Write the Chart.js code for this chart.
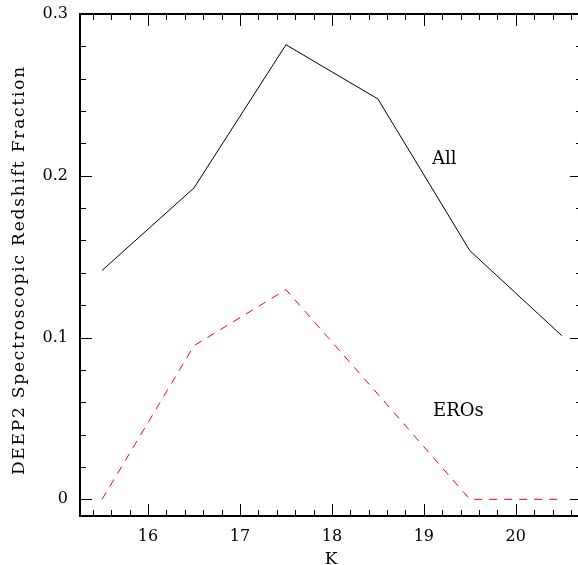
<!DOCTYPE html>
<html>
<head>
<meta charset="utf-8">
<script src="https://cdn.jsdelivr.net/npm/chart.js@4"></script>
<style>
  body { margin: 0; overflow: hidden; background: #fff; }
</style>
</head>
<body>
<canvas id="myChart" width="600" height="565"></canvas>
<script>
  // data
  var kMags = [15.5, 16.5, 17.5, 18.5, 19.5, 20.5];
  var allFraction = [0.1415, 0.1925, 0.281, 0.2475, 0.1537, 0.1012];
  var eroFraction = [0, 0.095, 0.1296, 0.065, 0, 0];

  var xTickLabels = [16, 17, 18, 19, 20];
  var yTickLabels = [0, 0.1, 0.2, 0.3];

  var serif = "'DejaVu Serif', serif";

  function pairs(ys) {
    return kMags.map(function (k, i) { return { x: k, y: ys[i] }; });
  }

  // frame with inward ticks on all four sides, plus text labels
  var framePlugin = {
    id: 'frame',
    afterDraw: function (chart) {
      var ctx = chart.ctx;
      var a = chart.chartArea;
      var xs = chart.scales.x, ys = chart.scales.y;
      ctx.save();
      ctx.strokeStyle = '#000';
      ctx.lineWidth = 1;
      ctx.beginPath();
      for (var i = 77; i <= 103; i++) {
        var v = i / 5;
        var px = Math.round(xs.getPixelForValue(v)) + 0.5;
        var len = (i % 5 === 0) ? 12 : 6;
        ctx.moveTo(px, a.bottom); ctx.lineTo(px, a.bottom - len);
        ctx.moveTo(px, a.top); ctx.lineTo(px, a.top + len);
      }
      for (var j = 0; j <= 15; j++) {
        var py = Math.round(ys.getPixelForValue(j * 0.02)) + 0.5;
        var l2 = (j % 5 === 0) ? 12 : 6;
        ctx.moveTo(a.left, py); ctx.lineTo(a.left + l2, py);
        ctx.moveTo(a.right, py); ctx.lineTo(a.right - l2, py);
      }
      ctx.stroke();
      ctx.lineWidth = 2;
      ctx.strokeRect(a.left, a.top, a.right - a.left, a.bottom - a.top);

      ctx.fillStyle = '#000';
      ctx.font = '18px ' + serif;
      ctx.textAlign = 'left';
      ctx.textBaseline = 'alphabetic';
      ctx.fillText('All', 432, 164);
      ctx.fillText('EROs', 433, 416);

      ctx.font = '17px ' + serif;
      ctx.textAlign = 'center';
      ctx.fillText('K', (a.left + a.right) / 2, 564);

      ctx.translate(24, 270);
      ctx.rotate(-Math.PI / 2);
      ctx.letterSpacing = '1.8px';
      ctx.fillText('DEEP2 Spectroscopic Redshift Fraction', 0, 0);
      ctx.restore();
    }
  };

  var data = {
    datasets: [{
      label: 'All',
      data: pairs(allFraction),
      borderColor: '#000',
      borderWidth: 1,
      pointRadius: 0,
      tension: 0
    }, {
      label: 'EROs',
      data: pairs(eroFraction),
      borderColor: '#ff0000',
      borderWidth: 1,
      borderDash: [8, 7],
      pointRadius: 0,
      tension: 0
    }]
  };

  const config = {
    type: 'line',
    data: data,
    options: {
      responsive: false,
      animation: false,
      layout: { padding: { top: 14, right: 18, left: 0, bottom: 0 } },
      plugins: { legend: { display: false }, tooltip: { enabled: false } },
      scales: {
        x: {
          type: 'linear',
          min: 15.26,
          max: 20.72,
          grid: { display: false, drawTicks: false },
          border: { display: false },
          afterBuildTicks: function (s) {
            s.ticks = xTickLabels.map(function (v) { return { value: v }; });
          },
          afterFit: function (s) { s.height = 49; s.paddingLeft = 0; s.paddingRight = 0; },
          ticks: {
            color: '#000',
            font: { family: serif, size: 16 },
            padding: 11,
            callback: function (v) { return String(v); }
          }
        },
        y: {
          min: -0.0103,
          max: 0.3,
          grid: { display: false, drawTicks: false },
          border: { display: false },
          afterBuildTicks: function (s) {
            s.ticks = yTickLabels.map(function (v) { return { value: v }; });
          },
          afterFit: function (s) { s.width = 80; s.paddingTop = 0; s.paddingBottom = 0; },
          ticks: {
            color: '#000',
            font: { family: serif, size: 16 },
            padding: 12,
            callback: function (v) { return v === 0 ? '0' : v.toFixed(1); }
          }
        }
      }
    },
    plugins: [framePlugin]
  };

  var myChart = new Chart(document.getElementById('myChart'), config);
</script>
</body>
</html>
